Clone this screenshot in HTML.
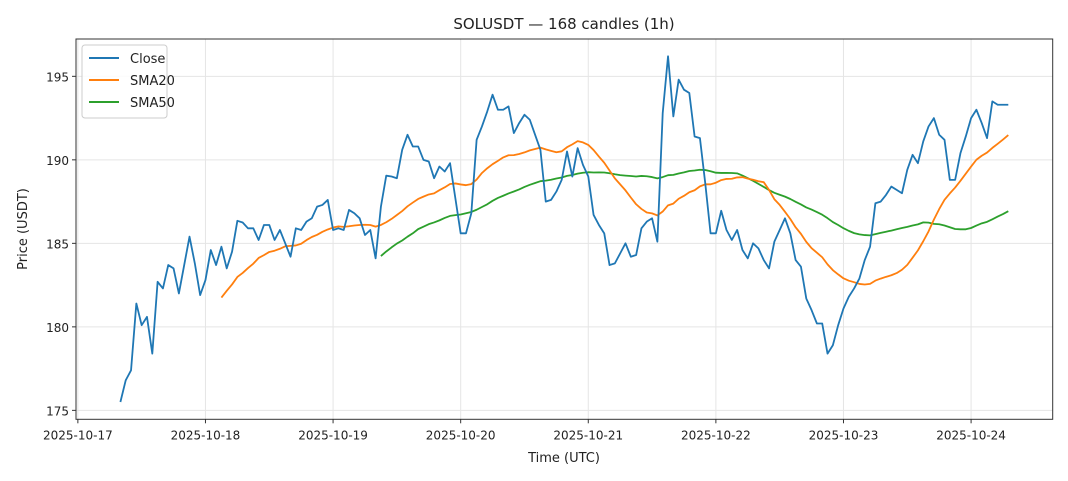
<!DOCTYPE html>
<html><head><meta charset="utf-8"><style>
html,body{margin:0;padding:0;background:#fff;}
svg{display:block;font-family:"DejaVu Sans","Liberation Sans",sans-serif;}
</style></head><body>
<svg id="chart" width="1068" height="481" viewBox="0 0 1068 481" xmlns="http://www.w3.org/2000/svg">
<rect width="1068" height="481" fill="#fff"/>
<text x="564" y="29" text-anchor="middle" font-size="15" fill="#222">SOLUSDT — 168 candles (1h)</text>
<g id="grid"></g><g id="series"></g><g id="axes"></g>
<text x="564" y="462" text-anchor="middle" font-size="13" fill="#222">Time (UTC)</text>
<text transform="translate(27,229) rotate(-90)" text-anchor="middle" font-size="13" fill="#222">Price (USDT)</text>
<g>
<rect x="82" y="45" width="85" height="73" rx="3" fill="#fff" fill-opacity="0.85" stroke="#ccc"/>
<line x1="89" y1="58" x2="119" y2="58" stroke="#1f77b4" stroke-width="2"/>
<text x="130" y="63" font-size="13" fill="#222">Close</text>
<line x1="89" y1="80" x2="119" y2="80" stroke="#ff7f0e" stroke-width="2"/>
<text x="130" y="85" font-size="13" fill="#222">SMA20</text>
<line x1="89" y1="102" x2="119" y2="102" stroke="#2ca02c" stroke-width="2"/>
<text x="130" y="107" font-size="13" fill="#222">SMA50</text>
</g>
</svg>
<script>
const closes=[175.5,176.8,177.4,181.4,180.1,180.6,178.4,182.7,182.3,183.7,183.5,182.0,183.7,185.4,183.8,181.9,182.8,184.6,183.7,184.8,
183.5,184.5,186.35,186.25,185.9,185.9,185.2,186.1,186.1,185.2,185.8,185.0,184.2,185.9,185.8,186.3,186.5,187.2,187.3,187.6,
185.8,185.9,185.8,187.0,186.8,186.5,185.5,185.8,184.1,187.2,189.05,189.0,188.9,190.6,191.5,190.8,190.8,190.0,189.9,188.9,
189.6,189.3,189.8,187.7,185.6,185.6,186.8,191.2,192.0,192.9,193.9,193.0,193.0,193.2,191.6,192.2,192.7,192.4,191.5,190.6,
187.5,187.6,188.1,188.8,190.5,189.0,190.7,189.7,189.0,186.7,186.1,185.6,183.7,183.8,184.4,185.0,184.2,184.3,185.9,186.3,
186.5,185.1,192.8,196.2,192.6,194.8,194.2,194.0,191.4,191.3,188.6,185.6,185.6,186.95,185.8,185.2,185.8,184.6,184.1,185.0,
184.7,184.0,183.5,185.1,185.8,186.5,185.6,184.0,183.6,181.7,181.0,180.2,180.2,178.4,178.9,180.1,181.1,181.8,182.3,182.9,
184.0,184.8,187.4,187.5,187.9,188.4,188.2,188.0,189.4,190.3,189.8,191.1,192.0,192.5,191.5,191.2,188.8,188.8,190.4,191.4,
192.5,193.0,192.2,191.3,193.5,193.3,193.3,193.3];
const startHour=8; // 2025-10-17 08:00 UTC
const xTickLabels=["2025-10-17","2025-10-18","2025-10-19","2025-10-20","2025-10-21","2025-10-22","2025-10-23","2025-10-24"];
const yTicks=[175,180,185,190,195];
const smaPeriods=[20,50];

const L=76,R=1052.7,T=39,B=419.3;
const n=closes.length;
const xmin=-0.05*(n-1), xmax=(n-1)*1.05;
const mn=Math.min(...closes), mx=Math.max(...closes), pad=(mx-mn)*0.05;
const ymin=mn-pad, ymax=mx+pad;
const X=h=>L+(h-xmin)/(xmax-xmin)*(R-L);
const Y=v=>B-(v-ymin)/(ymax-ymin)*(B-T);
const NS="http://www.w3.org/2000/svg";
function mk(tag,attrs,parent){const e=document.createElementNS(NS,tag);for(const k in attrs)e.setAttribute(k,attrs[k]);parent.appendChild(e);return e;}
const grid=document.getElementById('grid'),axes=document.getElementById('axes'),series=document.getElementById('series');
xTickLabels.forEach((lab,d)=>{
  const x=X(d*24-startHour);
  const g=mk('line',{x1:x,x2:x,y1:T,y2:B,stroke:'#e5e5e5','stroke-width':1},grid);
  
  
  mk('line',{x1:x,x2:x,y1:B,y2:B+4,stroke:'#333'},axes);
  const t=mk('text',{x:x,y:B+20,'text-anchor':'middle','font-size':12,fill:'#222'},axes);
  t.textContent=lab;
  
  
});
yTicks.forEach(v=>{
  const y=Y(v);
  const g=mk('line',{x1:L,x2:R,y1:y,y2:y,stroke:'#e5e5e5','stroke-width':1},grid);
  
  
  mk('line',{x1:L-4,x2:L,y1:y,y2:y,stroke:'#333'},axes);
  const t=mk('text',{x:L-7,y:y+5,'text-anchor':'end','font-size':12,fill:'#222'},axes);
  t.textContent=v;
  
  
});
const frame=mk('rect',{x:L,y:T,width:R-L,height:B-T,fill:'none',stroke:'#333','stroke-width':1},axes);


function sma(p){const o=[];for(let i=p-1;i<n;i++){let s=0;for(let j=i-p+1;j<=i;j++)s+=closes[j];o.push([i,s/p]);}return o;}
function path(pts,color,name){
  const d=pts.map((p,k)=>(k?'L':'M')+X(p[0]).toFixed(2)+','+Y(p[1]).toFixed(2)).join('');
  const e=mk('path',{d:d,fill:'none',stroke:color,'stroke-width':1.8,'stroke-linejoin':'round'},series);
  
  
}
path(sma(smaPeriods[1]),'#2ca02c','sma50-line');
path(sma(smaPeriods[0]),'#ff7f0e','sma20-line');
path(closes.map((v,i)=>[i,v]),'#1f77b4','close-line');
</script>
</body></html>
